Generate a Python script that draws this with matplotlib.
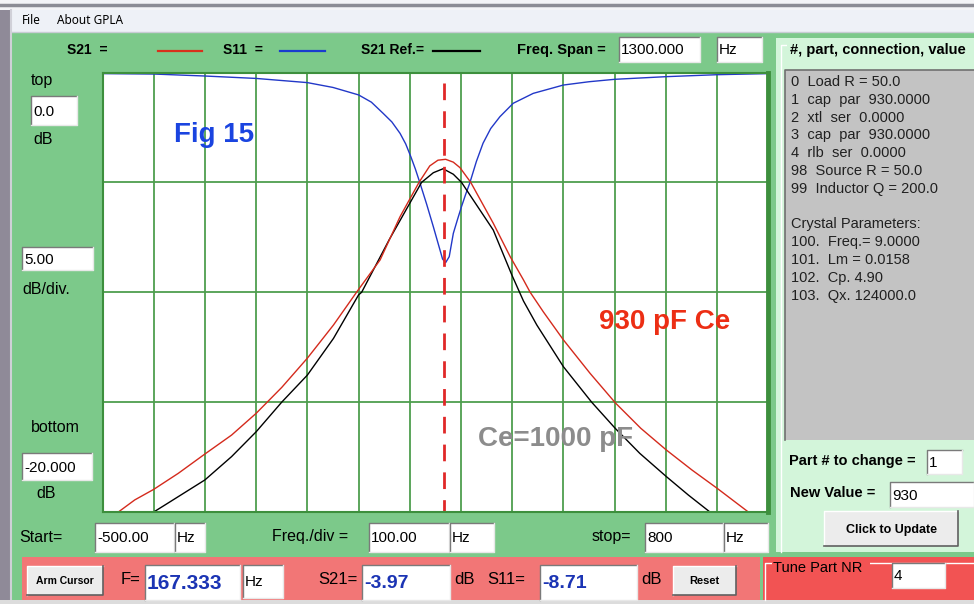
import matplotlib
matplotlib.use("Agg")
import matplotlib.pyplot as plt
from matplotlib.patches import Rectangle

# sweep settings shown in the GPLA window
f_start, f_stop, f_div = -500, 800, 100      # Hz
db_top, db_bottom, db_div = 0.0, -20.0, 5.0  # dB
cursor_f = 167.333
cursor_s21, cursor_s11 = -3.97, -8.71

# S21 with Ce = 930 pF (red)
s21_f = [-500, -469, -437, -400, -352, -300, -248, -200, -150, -100, -49, -4,
         42, 81, 118, 139, 155, 170, 185, 198, 219, 263, 296, 322, 335, 361,
         400, 452, 502, 551, 601, 651, 700, 761, 800]
s21_db = [-20.0, -20.0, -19.45, -18.97, -18.24, -17.36, -16.5, -15.51, -14.33,
          -13.0, -11.49, -10.0, -8.53, -6.56, -5.0, -4.25, -3.99, -3.95, -4.08,
          -4.33, -5.0, -6.86, -8.38, -9.44, -10.0, -10.9, -12.17, -13.69,
          -15.05, -16.19, -17.18, -18.09, -18.92, -20.0, -20.0]

# S21 reference, Ce = 1000 pF (black)
ref_f = [-500, -400, -378, -352, -300, -248, -200, -150, -100, -49, 0, 6, 60,
         123, 146, 165, 185, 201, 263, 299, 322, 348, 400, 455, 501, 549, 601,
         644, 686, 800]
ref_db = [-20.0, -20.0, -19.68, -19.3, -18.54, -17.48, -16.35, -15.0, -13.77,
          -12.1, -10.12, -10.0, -7.6, -5.0, -4.56, -4.38, -4.63, -5.0, -7.17,
          -9.2, -10.4, -11.49, -13.39, -15.0, -16.19, -17.33, -18.39, -19.23,
          -20.0, -20.0]

# S11 (blue)
s11_f = [-500, -400, -300, -200, -100, -50, 0, 25, 48, 65, 81, 92, 102, 111,
         120, 133, 146, 159, 164, 170, 177, 185, 193, 201, 209, 217, 230, 243,
         258, 276, 302, 341, 400, 450, 500, 600, 700, 800]
s11_db = [-0.05, -0.07, -0.16, -0.27, -0.46, -0.68, -1.02, -1.35, -1.86,
          -2.25, -2.77, -3.25, -3.83, -4.4, -5.04, -6.0, -7.02, -8.08, -8.49,
          -8.65, -8.38, -7.32, -6.7, -6.1, -5.55, -5.04, -4.05, -3.22, -2.55,
          -2.01, -1.4, -0.95, -0.57, -0.42, -0.31, -0.19, -0.1, -0.05]

parts = ["0  Load R = 50.0", "1  cap  par  930.0000", "2  xtl  ser  0.0000",
         "3  cap  par  930.0000", "4  rlb  ser  0.0000", "98  Source R = 50.0",
         "99  Inductor Q = 200.0", "", "Crystal Parameters:",
         "100.  Freq.= 9.0000", "101.  Lm = 0.0158", "102.  Cp. 4.90",
         "103.  Qx. 124000.0"]

GREEN = "#7cc98a"
LIGHT = "#d3f5da"
GRID = "#4e9e4e"
FONT = ["Liberation Sans", "DejaVu Sans"]

fig = plt.figure(figsize=(9.74, 6.04), dpi=100)
bg = fig.add_axes([0, 0, 1, 1])
bg.set_xlim(0, 974)
bg.set_ylim(604, 0)
bg.axis("off")


def rect(x0, y0, x1, y1, fc, ec="none", lw=0, z=1):
    bg.add_patch(Rectangle((x0, y0), x1 - x0, y1 - y0, fc=fc, ec=ec, lw=lw, zorder=z))


def label(x, y, s, size=9.5, weight="normal", color="black", ha="left", z=5):
    bg.text(x, y, s, fontsize=size, fontweight=weight, color=color, ha=ha,
            va="center", family=FONT, zorder=z)


def box(x0, y0, x1, y1, s="", size=10, color="black", weight="normal"):
    rect(x0, y0, x1, y1, "white", z=3)
    bg.plot([x0, x0, x1], [y1, y0, y0], color="#7a7a7a", lw=1, zorder=4)
    bg.plot([x0, x1, x1], [y1, y1, y0], color="#e8e8e8", lw=1, zorder=4)
    if s:
        label(x0 + 2, (y0 + y1) / 2 + 1, s, size=size, color=color, weight=weight)


def button(x0, y0, x1, y1, s, size=8):
    rect(x0, y0, x1, y1, "#ececec", z=3)
    bg.plot([x0, x0, x1], [y1, y0, y0], color="white", lw=1, zorder=4)
    bg.plot([x0, x1, x1], [y1, y1, y0], color="#606060", lw=1.2, zorder=4)
    label((x0 + x1) / 2, (y0 + y1) / 2 + 1, s, size=size, weight="bold", ha="center")


# window chrome
rect(0, 0, 974, 604, GREEN, z=0)
rect(0, 0, 974, 10, "#f4f4f6")
bg.plot([0, 974], [5, 5], color="#8c8c94", lw=2.5, zorder=2)
rect(0, 10, 974, 32, "#eef1f7")
bg.plot([0, 974], [32, 32], color="#c8ccd4", lw=1, zorder=2)
rect(0, 10, 11, 604, "#8f8a98", z=2)
bg.plot([11, 11], [10, 604], color="#d0d0d8", lw=1.5, zorder=2)
rect(0, 600, 974, 604, "#dcdcdc", z=2)
bg.text(22, 21, "File", fontsize=8.5, family=["Noto Sans", "DejaVu Sans"], va="center")
bg.text(57, 21, "About GPLA", fontsize=8.5, family=["Noto Sans", "DejaVu Sans"], va="center")

# legend row
label(67, 50, "S21  =", size=10, weight="bold")
bg.plot([158, 202], [51, 51], color="#d8301c", lw=1.6)
label(223, 50, "S11  =", size=10, weight="bold")
bg.plot([280, 325], [51, 51], color="#1a3ccf", lw=1.6)
label(361, 50, "S21 Ref.=", size=10, weight="bold")
bg.plot([433, 480], [51, 51], color="black", lw=1.6)
label(517, 50, "Freq. Span =", size=10.5, weight="bold")
box(619, 37, 700, 62, "%.3f" % (f_stop - f_start), size=11)
box(717, 37, 762, 62, "Hz", size=11)

# left scale controls
label(31, 81, "top", size=11.5)
box(31, 96, 77, 125, "%.1f" % db_top, size=11)
label(33, 140, "dB", size=11.5)
box(22, 247, 93, 270, "%.2f" % db_div, size=11)
label(22, 290, "dB/div.", size=11.5)
label(31, 428, "bottom", size=11.5)
box(22, 453, 92, 480, "%.3f" % db_bottom, size=11)
label(36, 494, "dB", size=11.5)

# bottom frequency controls
label(19, 537, "Start=", size=11.5)
box(95, 523, 174, 552, "%.2f" % f_start, size=11)
box(175, 523, 205, 552, "Hz", size=11)
label(272, 537, "Freq./div =", size=11.5)
box(369, 523, 449, 552, "%.2f" % f_div, size=11)
box(450, 523, 494, 552, "Hz", size=11)
label(592, 537, "stop=", size=11.5)
box(645, 523, 723, 552, "%d" % f_stop, size=11)
box(724, 523, 768, 552, "Hz", size=11)

# cursor read-out panel
rect(22, 557, 760, 600, "#f27676", z=2)
button(27, 566, 103, 595, "Arm Cursor", size=7.5)
label(121, 580, "F=", size=12)
box(145, 565, 240, 600, "%.3f" % cursor_f, size=15, color="#1b34b4", weight="bold")
box(243, 565, 283, 598, "Hz", size=11)
label(318, 580, "S21=", size=12)
box(362, 565, 450, 600, "%.2f" % cursor_s21, size=14, color="#1b34b4", weight="bold")
label(454, 580, "dB", size=12)
label(487, 580, "S11=", size=12)
box(540, 565, 637, 600, "%.2f" % cursor_s11, size=14, color="#1b34b4", weight="bold")
label(641, 580, "dB", size=12)
button(673, 566, 736, 595, "Reset", size=8)

# parts panel on the right
rect(776, 38, 974, 552, LIGHT, z=2)
bg.plot([781, 781, 974], [552, 45, 45], color="white", lw=1, zorder=2)
rect(787, 41, 974, 58, LIGHT, z=2)
label(790, 50, "#, part, connection, value", size=10.5, weight="bold")
rect(785, 70, 974, 440, "#c3c3c3", z=3)
bg.plot([785, 785, 974], [440, 70, 70], color="#707070", lw=1.2, zorder=4)
for i, line in enumerate(parts):
    label(791, 82 + i * 17.8, line, size=10.5, color="#202020")
label(789, 461, "Part # to change =", size=10.5, weight="bold")
box(927, 450, 962, 474, "1", size=11)
label(790, 493, "New Value =", size=10.5, weight="bold")
box(890, 482, 974, 507, "930", size=11)
button(824, 511, 958, 546, "Click to Update", size=9)

rect(763, 557, 974, 600, "#f25353", z=2)
bg.plot([765, 765, 974], [600, 563, 563], color="white", lw=1, zorder=3)
rect(772, 560, 870, 576, "#f25353", z=3)
label(773, 568, "Tune Part NR", size=10.5)
box(892, 563, 945, 588, "4", size=11)

# the response plot
px0, py0, px1, py1 = 102.5, 72.5, 768.3, 512.0
ax = fig.add_axes([px0 / 974, (604 - py1) / 604, (px1 - px0) / 974, (py1 - py0) / 604])
ax.set_facecolor("white")
ax.set_xlim(f_start, f_stop)
ax.set_ylim(db_bottom, db_top)
ax.set_xticks(range(f_start, f_stop + 1, f_div))
ax.set_yticks([db_bottom + k * db_div for k in range(5)])
ax.tick_params(length=0, labelbottom=False, labelleft=False)
ax.grid(True, color=GRID, lw=1.3)
ax.set_axisbelow(True)
for side, sp in ax.spines.items():
    sp.set_color("#3d8f3d")
    sp.set_linewidth(1.5)
ax.spines["right"].set_linewidth(3.5)

ax.plot(s11_f, s11_db, color="#2238c8", lw=1.0)
ax.plot(ref_f, ref_db, color="black", lw=1.0)
ax.plot(s21_f, s21_db, color="#d42a1c", lw=1.0)
ax.plot([cursor_f, cursor_f], [-0.48, db_bottom], color="#e02828", lw=2,
        dashes=(6, 4))

ax.text(-282, -2.84, "Fig 15", fontsize=20, fontweight="bold", color="#1a44e0",
        ha="center", va="center", family=FONT)
ax.text(597, -11.35, "930 pF Ce", fontsize=20, fontweight="bold", color="#ec2e14",
        ha="center", va="center", family=FONT)
ax.text(385, -16.7, "Ce=1000 pF", fontsize=20, fontweight="bold", color="#8c8c8c",
        ha="center", va="center", family=FONT)

fig.savefig("out.png", dpi=100)
